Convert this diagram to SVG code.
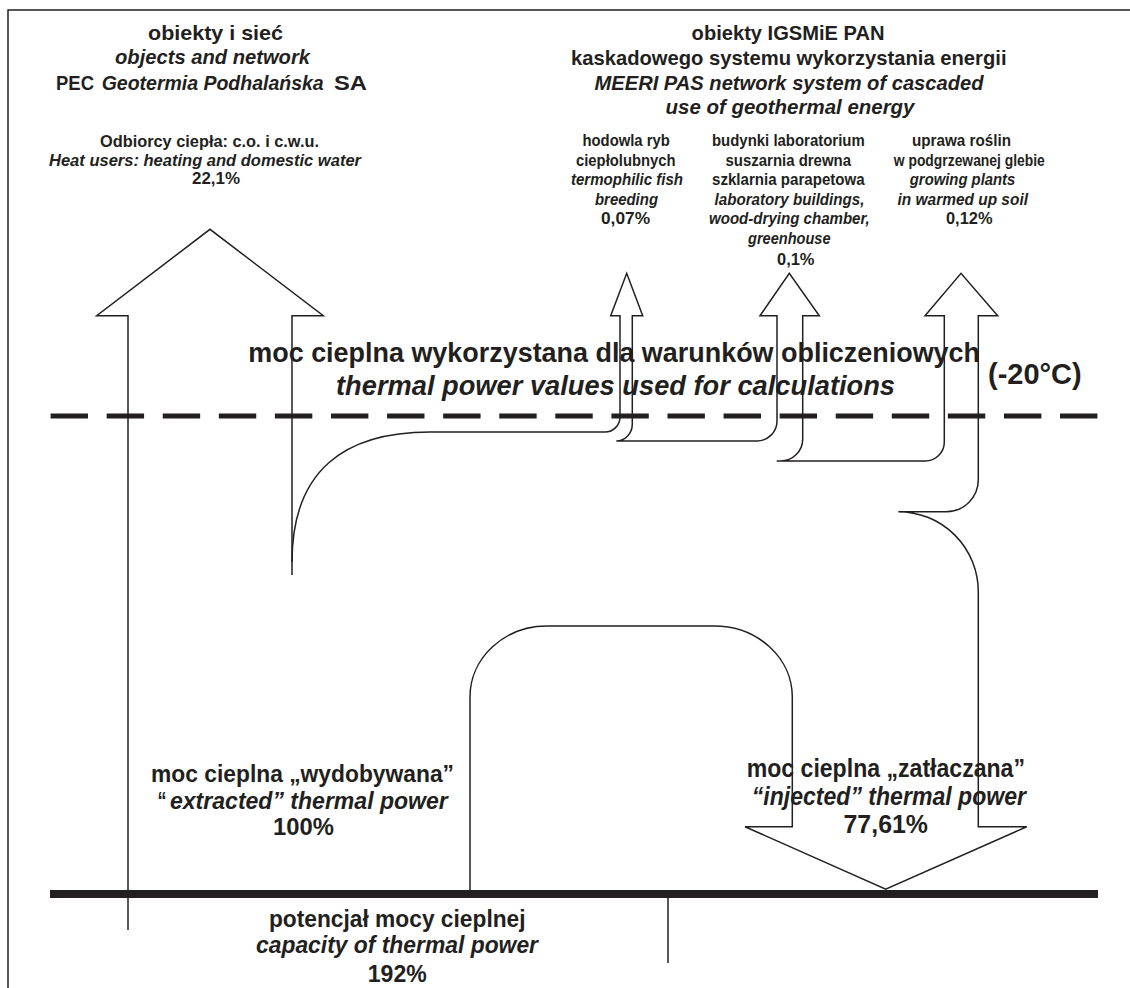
<svg xmlns="http://www.w3.org/2000/svg" width="1130" height="988" viewBox="0 0 1130 988">
<style>
.t{font-family:"Liberation Sans Narrow","Liberation Sans",Arial,sans-serif;font-weight:bold;fill:#231f20}
.i{font-style:italic}
.s21{font-size:21px}
.s20{font-size:20px}
.s17{font-size:17px}
.s28{font-size:28px}
.s25{font-size:25px}
.s24{font-size:24px}
.ln{fill:none;stroke:#231f20;stroke-width:1.5;stroke-linejoin:miter}
</style>
<rect width="1130" height="988" fill="#fff"/>
<g id="frame"><path class="ln" d="M8,988 V10 H1130"/></g>
<g id="connectors">
<path id="dashed-level" d="M50.6,416 H1098.3" fill="none" stroke="#231f20" stroke-width="5" stroke-dasharray="37.4 18.68"/>
<path id="ground" d="M50,894 H1098" fill="none" stroke="#231f20" stroke-width="8"/>
<path id="heat-users-arrow" class="ln" d="M128,930 V315.7 H96.7 L210,229.3 L323.3,315.7 H292 V575"/>
<path id="cascade" class="ln" d="M292,562 C292,470 345,432 430,432 H605 A15,15 0 0 0 620,417 V315.7 H610.7 L626.7,273.3 L642.7,315.7 H632.3 V424 A16,17 0 0 1 616.3,441 H757 A20,20 0 0 0 777,421 V315.7 H760 L789.3,273.3 L819.3,315.7 H802.7 V439 A22,22 0 0 1 780.7,461 H776.7 H925 A19,19 0 0 0 944.3,442 V315.7 H925 L961,273.3 L997.7,315.7 H978.3 V480 A32,32 0 0 1 946.3,511.7 H898.3 A80,80 0 0 1 978.3,591.7 V826.7 H1026.7 L885.7,889.3 L745,826.7 H792.3 V697 A78,71 0 0 0 714.3,626 H547 A77,71 0 0 0 470,697 V890"/>
<path id="capacity-tick" class="ln" d="M668,898 V963"/>
</g>
<g id="pec-objects">
<text class="t s21" x="148" y="39.5" textLength="135" lengthAdjust="spacingAndGlyphs">obiekty i sieć</text>
<text class="t s21 i" x="115" y="64" textLength="195" lengthAdjust="spacingAndGlyphs">objects and network</text>
<text class="t s20" x="56" y="89.5" textLength="38" lengthAdjust="spacingAndGlyphs">PEC</text>
<text class="t s20 i" x="101.7" y="89.5" textLength="222" lengthAdjust="spacingAndGlyphs">Geotermia Podhalańska</text>
<text class="t s20" x="334" y="89.5" textLength="33" lengthAdjust="spacingAndGlyphs">SA</text>
</g>
<g id="heat-users">
<text class="t s17" x="100" y="146.5" textLength="219" lengthAdjust="spacingAndGlyphs">Odbiorcy ciepła: c.o. i c.w.u.</text>
<text class="t s17 i" x="49" y="165.5" textLength="312" lengthAdjust="spacingAndGlyphs">Heat users: heating and domestic water</text>
<text class="t s17" x="192" y="184" textLength="48" lengthAdjust="spacingAndGlyphs">22,1%</text>
</g>
<g id="meeri-objects">
<text class="t s21" x="691.6" y="40" textLength="193" lengthAdjust="spacingAndGlyphs">obiekty IGSMiE PAN</text>
<text class="t s21" x="571" y="64.5" textLength="435.5" lengthAdjust="spacingAndGlyphs">kaskadowego systemu wykorzystania energii</text>
<text class="t s21 i" x="594.5" y="89.5" textLength="389" lengthAdjust="spacingAndGlyphs">MEERI PAS network system of cascaded</text>
<text class="t s21 i" x="665.5" y="114" textLength="249" lengthAdjust="spacingAndGlyphs">use of geothermal energy</text>
</g>
<g id="fish-breeding">
<text class="t s17" x="582.5" y="146" textLength="87.3" lengthAdjust="spacingAndGlyphs">hodowla ryb</text>
<text class="t s17" x="576" y="165.5" textLength="99.6" lengthAdjust="spacingAndGlyphs">ciepłolubnych</text>
<text class="t s17 i" x="571" y="185" textLength="112" lengthAdjust="spacingAndGlyphs">termophilic fish</text>
<text class="t s17 i" x="595" y="204.5" textLength="63" lengthAdjust="spacingAndGlyphs">breeding</text>
<text class="t s17" x="601" y="224" textLength="49" lengthAdjust="spacingAndGlyphs">0,07%</text>
</g>
<g id="laboratory-buildings">
<text class="t s17" x="712" y="146" textLength="152.7" lengthAdjust="spacingAndGlyphs">budynki laboratorium</text>
<text class="t s17" x="725.5" y="165.5" textLength="125.5" lengthAdjust="spacingAndGlyphs">suszarnia drewna</text>
<text class="t s17" x="712" y="185" textLength="152.7" lengthAdjust="spacingAndGlyphs">szklarnia parapetowa</text>
<text class="t s17 i" x="714.5" y="204.5" textLength="150" lengthAdjust="spacingAndGlyphs">laboratory buildings,</text>
<text class="t s17 i" x="709" y="224" textLength="160.7" lengthAdjust="spacingAndGlyphs">wood-drying chamber,</text>
<text class="t s17 i" x="748" y="243.5" textLength="82.5" lengthAdjust="spacingAndGlyphs">greenhouse</text>
<text class="t s17" x="777" y="265" textLength="37.5" lengthAdjust="spacingAndGlyphs">0,1%</text>
</g>
<g id="growing-plants">
<text class="t s17" x="912" y="146" textLength="99" lengthAdjust="spacingAndGlyphs">uprawa roślin</text>
<text class="t s17" x="893.8" y="165.5" textLength="151" lengthAdjust="spacingAndGlyphs">w podgrzewanej glebie</text>
<text class="t s17 i" x="909.8" y="185" textLength="105.5" lengthAdjust="spacingAndGlyphs">growing plants</text>
<text class="t s17 i" x="897.5" y="204.5" textLength="130.5" lengthAdjust="spacingAndGlyphs">in warmed up soil</text>
<text class="t s17" x="946" y="224" textLength="46.5" lengthAdjust="spacingAndGlyphs">0,12%</text>
</g>
<g id="calculation-level">
<text class="t s28" x="248.3" y="361.7" textLength="731.7" lengthAdjust="spacingAndGlyphs">moc cieplna wykorzystana dla warunków obliczeniowych</text>
<text class="t s28 i" x="336" y="395" textLength="559" lengthAdjust="spacingAndGlyphs">thermal power values used for calculations</text>
<text class="t" style="font-size:29px" x="988" y="384" textLength="93.7" lengthAdjust="spacingAndGlyphs">(-20°C)</text>
</g>
<g id="extracted-power">
<text class="t s24" x="151" y="782" textLength="303" lengthAdjust="spacingAndGlyphs">moc cieplna „wydobywana”</text>
<text class="t s24" x="157.4" y="808.5" textLength="9" lengthAdjust="spacingAndGlyphs">“</text>
<text class="t s24 i" x="170" y="808.5" textLength="277.8" lengthAdjust="spacingAndGlyphs">extracted” thermal power</text>
<text class="t s24" x="273" y="835" textLength="61" lengthAdjust="spacingAndGlyphs">100%</text>
</g>
<g id="injected-power">
<text class="t s25" x="746.7" y="777" textLength="278.3" lengthAdjust="spacingAndGlyphs">moc cieplna „zatłaczana”</text>
<text class="t s25 i" x="751.7" y="805" textLength="274.3" lengthAdjust="spacingAndGlyphs">“injected” thermal power</text>
<text class="t s25" x="843.5" y="833" textLength="84.5" lengthAdjust="spacingAndGlyphs">77,61%</text>
</g>
<g id="capacity">
<text class="t s24" x="268.9" y="926.7" textLength="256.7" lengthAdjust="spacingAndGlyphs">potencjał mocy cieplnej</text>
<text class="t s24 i" x="256" y="953.3" textLength="282" lengthAdjust="spacingAndGlyphs">capacity of thermal power</text>
<text class="t s24" x="367.8" y="981.5" textLength="59" lengthAdjust="spacingAndGlyphs">192%</text>
</g>
</svg>
